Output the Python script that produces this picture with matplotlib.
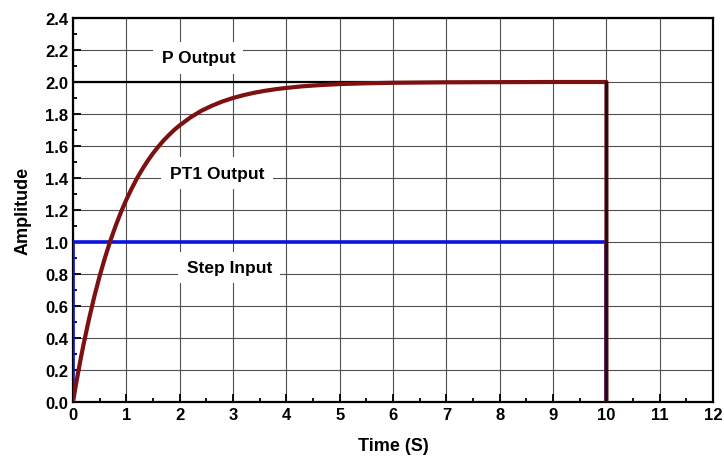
import matplotlib
matplotlib.use("Agg")
import matplotlib.pyplot as plt
from matplotlib.ticker import MultipleLocator, FormatStrFormatter

plt.rcParams['font.family'] = ['Liberation Sans', 'DejaVu Sans']
plt.rcParams['font.weight'] = 'bold'

# PT1 step response (time in s, amplitude)
pt1_t = [0, 0.05, 0.1, 0.15, 0.2, 0.3, 0.4, 0.5, 0.6, 0.7, 0.8, 0.9, 1.0, 1.1,
         1.2, 1.3, 1.4, 1.5, 1.6, 1.7, 1.8, 1.9, 2.0, 2.2, 2.4, 2.6, 2.8, 3.0,
         3.2, 3.4, 3.6, 3.8, 4.0, 4.3, 4.6, 5.0, 5.5, 6, 7, 8, 9, 10, 10]
pt1_y = [0, 0.098, 0.19, 0.279, 0.363, 0.518, 0.659, 0.787, 0.902, 1.007,
         1.101, 1.187, 1.264, 1.334, 1.398, 1.455, 1.507, 1.554, 1.596, 1.635,
         1.669, 1.701, 1.729, 1.778, 1.819, 1.851, 1.878, 1.900, 1.918, 1.933,
         1.945, 1.955, 1.963, 1.973, 1.980, 1.987, 1.992, 1.995, 1.998, 1.999,
         2.0, 2.0, 0]

# step input and proportional output
step_t = [0, 0, 10, 10]
step_y = [0, 1.0, 1.0, 0]
p_t = [0, 10, 10]
p_y = [2.0, 2.0, 0]

labels = ["P Output", "PT1 Output", "Step Input"]
label_pos = [(2.35, 2.15), (2.7, 1.43), (2.93, 0.84)]

fig = plt.figure(figsize=(7.24, 4.6), dpi=100)
ax = fig.add_axes([0.1008, 0.124, 0.8842, 0.8347])

ax.plot(step_t, step_y, color='#0a14e0', lw=2.6, zorder=4)
ax.plot(pt1_t, pt1_y, color='#7d1010', lw=3.0, zorder=5, solid_joinstyle='round')
ax.plot(p_t[:2], p_y[:2], color='black', lw=1.6, zorder=3)
ax.plot(p_t[1:], p_y[1:], color='#1a0a1a', lw=1.8, zorder=6)

for text, (x, y) in zip(labels, label_pos):
    ax.text(x, y, text, fontsize=12.5, fontweight='bold', ha='center', va='center',
            bbox=dict(facecolor='white', edgecolor='none', pad=6), zorder=2.5)

ax.set_xlim(0, 12)
ax.set_ylim(0, 2.4)
ax.xaxis.set_major_locator(MultipleLocator(1))
ax.xaxis.set_minor_locator(MultipleLocator(0.5))
ax.yaxis.set_major_locator(MultipleLocator(0.2))
ax.yaxis.set_minor_locator(MultipleLocator(0.1))
ax.yaxis.set_major_formatter(FormatStrFormatter('%.1f'))
ax.tick_params(which='both', direction='in', width=1.3, labelsize=12)
ax.tick_params(which='major', length=6)
ax.tick_params(which='minor', length=3)
ax.grid(True, which='major', color='#505050', lw=0.8, zorder=1)
ax.set_axisbelow(True)
for s in ax.spines.values():
    s.set_linewidth(1.6)

ax.set_xlabel("Time (S)", fontsize=13, fontweight='bold', labelpad=11)
ax.set_ylabel("Amplitude", fontsize=13, fontweight='bold', labelpad=10)

fig.savefig("out.png", dpi=100)
